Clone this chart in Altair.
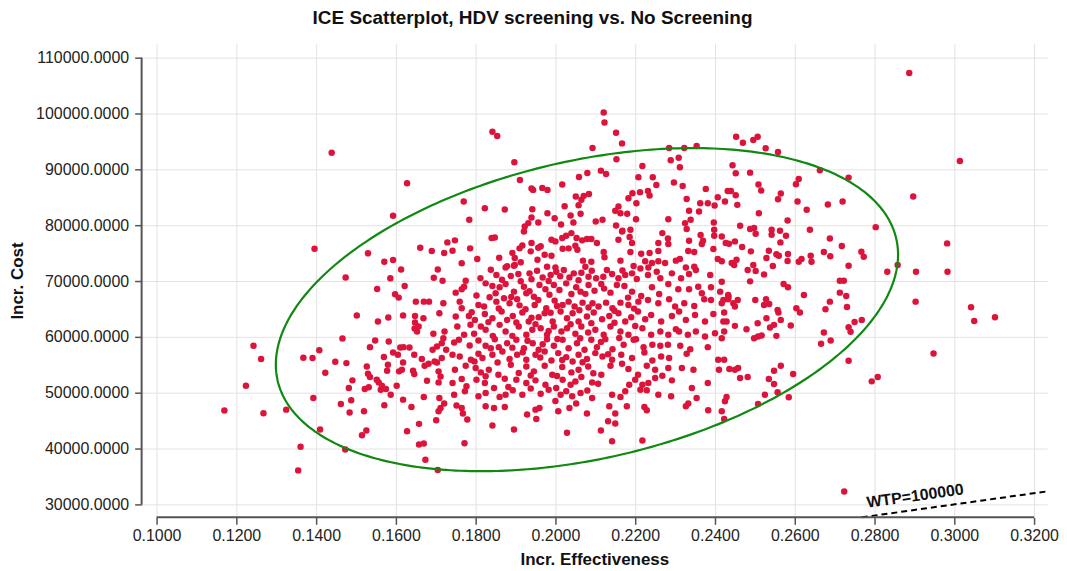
import altair as alt
import numpy as np
import pandas as pd

FONT = "Liberation Sans"
TITLE = "ICE Scatterplot, HDV screening vs. No Screening"
X_TITLE = "Incr. Effectiveness"
Y_TITLE = "Incr. Cost"
WTP = 100000
WTP_LABEL = "WTP=100000"

x_ticks = [0.10, 0.12, 0.14, 0.16, 0.18, 0.20, 0.22, 0.24, 0.26, 0.28, 0.30, 0.32]
y_ticks = [30000, 40000, 50000, 60000, 70000, 80000, 90000, 100000, 110000]
X_DOMAIN = [0.09625, 0.32325]
Y_DOMAIN = [27679, 112500]

# (incremental effectiveness, incremental cost), by region
pts_top_left = [
    (0.1439, 92980), (0.1628, 87510), (0.1593, 81680), (0.1396, 75790), (0.1530, 74960),
    (0.1661, 75970), (0.1690, 75370),
]
pts_top_mid = [
    (0.2121, 100180), (0.2123, 98400), (0.1842, 96730), (0.1854, 95960), (0.2152, 96550),
    (0.2167, 94650), (0.2093, 93820), (0.2153, 91790), (0.1897, 91260), (0.2285, 93820),
    (0.2323, 93820), (0.2354, 94170), (0.2289, 91610), (0.2309, 92090), (0.2312, 90360),
    (0.2218, 90600), (0.2114, 89770), (0.2127, 89180), (0.2080, 89350), (0.2059, 88640),
    (0.2208, 88580), (0.2244, 88580), (0.2253, 87210), (0.2297, 87630), (0.2319, 87030),
    (0.2444, 90720), (0.2452, 89290), (0.2453, 95840), (0.1911, 88100), (0.2017, 87270),
    (0.1940, 86560), (0.1944, 86320), (0.1967, 86680), (0.1980, 86320), (0.1770, 84240),
    (0.1823, 83050), (0.1873, 82810), (0.1942, 82870), (0.1784, 80960), (0.2051, 85130),
    (0.2065, 84540), (0.2071, 85250), (0.2084, 85600), (0.2058, 83580), (0.2023, 83400),
    (0.2063, 82030), (0.1980, 82150), (0.1998, 81260), (0.2038, 81740), (0.2045, 80490),
    (0.2101, 80670), (0.2118, 80960), (0.2014, 80130), (0.1940, 81380), (0.1932, 80370),
    (0.1923, 79770), (0.1921, 78880), (0.1957, 80490), (0.2158, 83340), (0.2150, 82570),
    (0.2163, 82150), (0.2180, 82030), (0.2152, 79950), (0.2168, 79000), (0.2188, 79180),
    (0.2202, 81080), (0.2203, 83940), (0.2183, 84830), (0.2193, 85720), (0.2212, 85900),
    (0.2232, 86140), (0.2236, 85310), (0.2329, 84700), (0.2363, 83940), (0.2382, 83940),
    (0.2399, 83520), (0.2377, 86500), (0.2407, 85000), (0.2425, 84240), (0.2432, 86140),
    (0.2440, 86140), (0.2335, 82570), (0.2360, 82450), (0.2283, 81080), (0.2325, 80370),
    (0.2329, 79300), (0.2339, 80960), (0.2397, 80490), (0.2398, 79180), (0.2398, 78110),
    (0.1840, 77690), (0.1848, 77810), (0.1917, 76380), (0.1940, 76800), (0.1729, 76920),
    (0.1748, 77280), (0.1721, 75010), (0.1742, 75430), (0.1786, 75850), (0.1765, 73170),
    (0.1804, 73940), (0.1859, 74180), (0.1892, 75030), (0.1910, 75850), (0.1938, 75310),
    (0.1957, 75970), (0.1963, 76210), (0.1990, 77400), (0.2000, 77100), (0.2017, 77700),
    (0.2027, 78110), (0.2040, 78580), (0.2053, 77700), (0.2067, 77280), (0.2079, 77520),
    (0.2090, 77520), (0.2104, 76800), (0.2018, 75790), (0.2033, 75850), (0.2050, 76320),
    (0.2055, 75610), (0.1973, 74720), (0.1990, 74540), (0.1955, 73820), (0.1898, 74120),
    (0.1913, 73350), (0.2069, 73650), (0.2090, 73470), (0.2121, 75190), (0.2123, 74240),
    (0.2158, 77400), (0.2167, 78880), (0.2186, 77870), (0.2192, 76800), (0.2188, 75190),
    (0.2163, 73650), (0.2215, 74900), (0.2236, 75010), (0.2258, 75370), (0.2258, 76800),
    (0.2268, 78580), (0.2282, 77630), (0.2283, 76620), (0.2225, 73530), (0.2242, 73230),
    (0.2258, 73530), (0.2275, 73230), (0.2302, 73650), (0.2312, 73940), (0.2333, 75370),
    (0.2348, 75190), (0.2335, 77220), (0.2364, 78230), (0.2370, 77220), (0.2367, 76620),
    (0.2396, 75730), (0.2407, 73940), (0.2417, 73530), (0.2417, 77990), (0.2427, 76800),
    (0.2435, 76680), (0.2442, 73230), (0.2454, 73820), (0.2450, 77100), (0.1879, 72650),
    (0.1896, 72750),
]
pts_top_right = [
    (0.2887, 107260), (0.3014, 91500), (0.2897, 85130), (0.2803, 79650), (0.2982, 76740),
    (0.2470, 94770), (0.2496, 95240), (0.2507, 95840), (0.2527, 93760), (0.2558, 93100),
    (0.2488, 89410), (0.2663, 89830), (0.2735, 88520), (0.2610, 88280), (0.2603, 87330),
    (0.2509, 87270), (0.2516, 86200), (0.2452, 85370), (0.2456, 83640), (0.2565, 85670),
    (0.2558, 84650), (0.2607, 84240), (0.2630, 82750), (0.2683, 83700), (0.2720, 84240),
    (0.2510, 82150), (0.2582, 80850), (0.2463, 79890), (0.2488, 79300), (0.2498, 79480),
    (0.2502, 78470), (0.2542, 79180), (0.2542, 78290), (0.2563, 79000), (0.2578, 78110),
    (0.2564, 76920), (0.2638, 79180), (0.2468, 76080), (0.2490, 75310), (0.2535, 75430),
    (0.2529, 74120), (0.2554, 74780), (0.2560, 74540), (0.2583, 74840), (0.2617, 73940),
    (0.2640, 74540), (0.2688, 77630), (0.2718, 76260), (0.2673, 75190), (0.2689, 74420),
    (0.2767, 75250), (0.2773, 74360),
]
pts_bottom_right = [
    (0.2832, 71670), (0.2904, 71670), (0.2983, 71670), (0.2858, 72860), (0.2903, 66310),
    (0.3042, 65300), (0.3050, 62860), (0.3102, 63510), (0.2948, 57030), (0.2793, 52030),
    (0.2808, 52800), (0.2735, 55720), (0.2768, 63040), (0.2750, 62680), (0.2735, 61730),
    (0.2740, 60900), (0.2729, 67320), (0.2731, 65360), (0.2713, 67920), (0.2713, 70060),
    (0.2723, 70060), (0.2688, 66310), (0.2677, 64940), (0.2673, 60780), (0.2666, 58750),
    (0.2690, 59350), (0.2735, 72740), (0.2623, 67500), (0.2604, 65120), (0.2613, 64350),
    (0.2590, 62030), (0.2572, 69460), (0.2583, 68870), (0.2545, 72680), (0.2523, 71190),
    (0.2496, 72860), (0.2502, 71790), (0.2482, 71970), (0.2488, 69940), (0.2610, 73450),
    (0.2642, 73450), (0.2582, 73570), (0.2434, 67200), (0.2457, 66610), (0.2446, 66010),
    (0.2421, 66610), (0.2501, 66610), (0.2528, 66730), (0.2536, 65890), (0.2523, 65720),
    (0.2557, 64820), (0.2559, 64350), (0.2529, 63340), (0.2507, 62440), (0.2565, 63040),
    (0.2538, 61670), (0.2548, 62150), (0.2554, 60180), (0.2479, 61370), (0.2498, 59770),
    (0.2508, 60060), (0.2517, 60240), (0.2421, 62740), (0.2417, 59770), (0.2450, 54110),
    (0.2458, 54410), (0.2463, 52620), (0.2482, 52800), (0.2548, 53940), (0.2565, 54830),
    (0.2535, 52440), (0.2548, 51550), (0.2596, 53340), (0.2525, 49650), (0.2557, 50070),
    (0.2508, 47980), (0.2585, 49170), (0.2417, 46680), (0.2724, 32300),
]
pts_bottom_left = [
    (0.1170, 46800), (0.1224, 51260), (0.1243, 58400), (0.1262, 56020), (0.1268, 46320),
    (0.1325, 46970), (0.1361, 40310), (0.1355, 36090), (0.1368, 56260), (0.1391, 56200),
    (0.1408, 57620), (0.1393, 49060), (0.1423, 53580), (0.1410, 43400), (0.1448, 55540),
    (0.1476, 55300), (0.1466, 59710), (0.1474, 70650), (0.1473, 39830), (0.1462, 47980),
    (0.1484, 46440), (0.1488, 48640), (0.1482, 50840), (0.1491, 52210), (0.1502, 63810),
    (0.1520, 46680), (0.1526, 43220), (0.1515, 42390), (0.1522, 50660), (0.1532, 50960),
    (0.1527, 54710), (0.1530, 53400), (0.1535, 52800), (0.1535, 58160), (0.1548, 59350),
    (0.1553, 68570), (0.1555, 62740), (0.1552, 52330), (0.1557, 51850), (0.1565, 51260),
    (0.1562, 50540), (0.1575, 50660), (0.1570, 56380), (0.1571, 47750), (0.1571, 73450),
    (0.1593, 73750), (0.1582, 59170), (0.1580, 55010), (0.1578, 53940), (0.1581, 63460),
    (0.1586, 70480), (0.1587, 49650), (0.1598, 67620), (0.1607, 67030), (0.1593, 57200),
    (0.1605, 56790), (0.1611, 58100), (0.1619, 58160), (0.1634, 58100), (0.1602, 51260),
    (0.1608, 53820), (0.1615, 54110), (0.1618, 55420), (0.1613, 72080), (0.1622, 69110),
    (0.1618, 63810), (0.1618, 48760), (0.1628, 43100), (0.1639, 47450), (0.1646, 56790),
    (0.1646, 53340), (0.1643, 53940), (0.1650, 66310), (0.1648, 63750), (0.1648, 62560),
    (0.1647, 61490), (0.1653, 60960), (0.1657, 61850), (0.1658, 44420), (0.1658, 40730),
    (0.1670, 40910), (0.1674, 37990), (0.1670, 49230), (0.1665, 56020), (0.1672, 54830),
    (0.1682, 55180), (0.1697, 55600), (0.1703, 55420), (0.1670, 66310), (0.1683, 66310),
    (0.1669, 63340), (0.1678, 52150), (0.1692, 57680), (0.1694, 60540), (0.1695, 70600),
    (0.1717, 70060), (0.1705, 72080), (0.1709, 64230), (0.1719, 66010), (0.1722, 60960),
    (0.1719, 59770), (0.1715, 58870), (0.1703, 58280), (0.1726, 57680), (0.1707, 53820),
    (0.1712, 52920), (0.1707, 51850), (0.1709, 49060), (0.1712, 47270), (0.1721, 48050),
    (0.1707, 46680), (0.1701, 45070), (0.1705, 36140),
]
pts_core = [
    (0.1875, 72440), (0.1898, 72860), (0.1979, 72560), (0.2000, 72440), (0.2075, 72560),
    (0.2196, 72680), (0.2213, 72260), (0.2233, 72440), (0.2327, 72440), (0.2348, 72560),
    (0.2448, 72860),
    (0.1775, 70060), (0.1852, 71070), (0.1888, 70890), (0.1907, 71250), (0.1935, 71370),
    (0.1954, 71850), (0.1968, 70650), (0.1988, 71070), (0.2002, 71670), (0.2021, 71960),
    (0.2035, 70650), (0.2046, 71370), (0.2065, 71490), (0.2083, 70770), (0.2102, 70480),
    (0.2129, 71960), (0.2142, 71250), (0.2158, 70480), (0.2175, 71070), (0.2192, 71370),
    (0.2232, 71070), (0.2254, 71670), (0.2263, 70480), (0.2292, 71370), (0.2315, 70480),
    (0.2335, 71250), (0.2352, 71960), (0.2388, 71070), (0.2417, 69880),
    (0.1750, 67920), (0.1765, 68510), (0.1771, 68990), (0.1825, 69580), (0.1842, 69110),
    (0.1860, 68870), (0.1875, 69460), (0.1896, 68100), (0.1921, 68990), (0.1927, 67800),
    (0.1946, 67200), (0.1960, 69290), (0.1975, 68510), (0.1996, 69290), (0.2027, 69580),
    (0.2040, 67680), (0.2052, 68870), (0.2063, 68100), (0.2083, 69290), (0.2098, 68270),
    (0.2115, 69460), (0.2138, 67920), (0.2154, 69290), (0.2173, 69110), (0.2192, 68100),
    (0.2215, 67320), (0.2242, 68870), (0.2260, 67680), (0.2283, 69460), (0.2308, 68510),
    (0.2335, 68510), (0.2358, 68990), (0.2367, 67800), (0.2390, 68870), (0.2413, 68100),
    (0.2433, 67500),
    (0.1760, 66310), (0.1765, 65120), (0.1807, 65710), (0.1821, 65420), (0.1835, 67080),
    (0.1852, 66310), (0.1871, 66910), (0.1885, 66010), (0.1904, 66730), (0.1925, 64940),
    (0.1948, 65710), (0.1957, 66610), (0.1977, 65120), (0.1998, 66490), (0.2018, 65710),
    (0.2033, 66310), (0.2048, 65420), (0.2068, 66130), (0.2093, 66010), (0.2108, 65420),
    (0.2127, 66130), (0.2143, 65120), (0.2163, 66130), (0.2183, 65710), (0.2208, 66310),
    (0.2232, 66610), (0.2258, 66010), (0.2285, 66730), (0.2300, 65420), (0.2323, 66010),
    (0.2348, 65540), (0.2373, 66730), (0.2390, 66610), (0.2417, 66010), (0.2433, 66730),
    (0.2450, 65420),
    (0.1750, 63630), (0.1783, 63750), (0.1798, 63040), (0.1823, 64110), (0.1842, 63340),
    (0.1865, 64530), (0.1879, 63040), (0.1893, 63750), (0.1917, 64350), (0.1933, 62740),
    (0.1958, 63510), (0.1973, 64230), (0.1993, 62740), (0.2013, 64530), (0.2029, 63340),
    (0.2043, 64230), (0.2058, 62740), (0.2079, 63630), (0.2096, 64350), (0.2117, 63160),
    (0.2135, 63750), (0.2158, 64230), (0.2175, 62740), (0.2190, 63510), (0.2207, 64530),
    (0.2225, 63160), (0.2240, 63930), (0.2265, 62740), (0.2292, 63750), (0.2310, 64530),
    (0.2327, 63040), (0.2350, 63930), (0.2375, 62740), (0.2396, 64110), (0.2423, 64350),
    (0.2429, 62740), (0.2450, 61970),
    (0.1754, 61850), (0.1771, 60360), (0.1796, 60540), (0.1813, 61850), (0.1825, 61260),
    (0.1843, 60180), (0.1860, 62150), (0.1875, 60960), (0.1892, 60180), (0.1908, 61850),
    (0.1927, 60360), (0.1942, 61260), (0.1963, 61550), (0.1979, 60360), (0.1996, 61850),
    (0.2015, 60960), (0.2029, 61550), (0.2050, 60540), (0.2065, 61850), (0.2082, 60780),
    (0.2100, 61260), (0.2121, 60360), (0.2138, 61850), (0.2163, 60960), (0.2183, 60360),
    (0.2202, 59590), (0.2218, 61550), (0.2240, 60360), (0.2263, 60960), (0.2283, 60360),
    (0.2302, 61370), (0.2310, 60960), (0.2332, 60360), (0.2352, 60960), (0.2375, 60060),
    (0.2400, 60660), (0.2423, 60960),
    (0.1746, 58990), (0.1758, 59470), (0.1807, 59350), (0.1825, 58400), (0.1848, 59590),
    (0.1858, 58160), (0.1879, 58870), (0.1902, 59470), (0.1921, 57980), (0.1943, 58870),
    (0.1958, 57680), (0.1979, 59590), (0.1996, 58400), (0.2018, 59470), (0.2033, 57980),
    (0.2054, 58870), (0.2073, 57680), (0.2090, 59470), (0.2104, 58160), (0.2125, 59590),
    (0.2143, 57800), (0.2171, 58580), (0.2196, 59470), (0.2221, 58160), (0.2243, 58580),
    (0.2263, 58400), (0.2282, 58580), (0.2313, 58400), (0.2338, 57800), (0.2382, 58160),
    (0.1715, 56200), (0.1742, 56790), (0.1760, 56490), (0.1788, 55900), (0.1807, 56970),
    (0.1817, 56200), (0.1842, 56790), (0.1867, 57390), (0.1885, 56020), (0.1904, 56790),
    (0.1927, 55900), (0.1950, 56790), (0.1973, 57390), (0.1990, 55780), (0.2007, 57090),
    (0.2027, 56370), (0.2043, 55600), (0.2058, 56790), (0.2079, 56020), (0.2100, 57090),
    (0.2118, 56490), (0.2142, 55900), (0.2165, 56790), (0.2192, 56200), (0.2223, 57210),
    (0.2243, 55780), (0.2265, 56490), (0.2285, 56200), (0.2329, 56970), (0.2423, 55900),
    (0.1748, 54110), (0.1775, 54830), (0.1800, 54410), (0.1813, 53640), (0.1833, 54110),
    (0.1857, 53220), (0.1888, 55010), (0.1908, 53520), (0.1927, 54710), (0.1946, 53820),
    (0.1973, 54830), (0.1992, 53220), (0.2017, 54590), (0.2040, 53640), (0.2058, 54110),
    (0.2082, 54710), (0.2115, 53220), (0.2138, 54830), (0.2167, 55180), (0.2183, 54230),
    (0.2207, 53220), (0.2229, 54830), (0.2250, 54110), (0.2283, 54410), (0.2317, 54410),
    (0.2346, 54110), (0.2408, 55900), (0.2410, 54110), (0.2436, 54230),
    (0.1742, 51730), (0.1765, 52450), (0.1777, 51140), (0.1802, 52330), (0.1823, 51730),
    (0.1846, 50840), (0.1882, 51020), (0.1902, 52330), (0.1927, 51730), (0.1950, 52210),
    (0.1975, 51440), (0.2002, 50840), (0.2018, 52330), (0.2038, 51440), (0.2065, 52800),
    (0.2092, 51850), (0.2107, 51610), (0.2185, 51440), (0.2200, 52330), (0.2218, 51440),
    (0.2233, 51730), (0.2250, 52620), (0.2268, 53040), (0.2292, 52210), (0.2342, 50840),
    (0.2382, 51730),
    (0.1746, 49650), (0.1773, 50250), (0.1807, 49350), (0.1825, 49950), (0.1875, 49650),
    (0.1893, 50430), (0.1917, 49650), (0.1963, 49830), (0.1983, 50540), (0.2013, 49650),
    (0.2027, 50250), (0.2042, 49350), (0.2063, 49950), (0.2092, 49060), (0.2142, 49650),
    (0.2163, 49230), (0.2175, 50250), (0.2213, 50540), (0.2229, 50430), (0.2258, 49650),
    (0.2290, 49350), (0.2354, 49060), (0.2429, 49230),
    (0.1752, 47690), (0.1765, 47270), (0.1825, 47570), (0.1846, 47270), (0.1873, 47450),
    (0.1950, 46970), (0.1960, 47270), (0.2007, 46680), (0.2035, 47270), (0.2052, 48050),
    (0.2079, 46260), (0.2135, 47570), (0.2150, 46260), (0.2179, 47570), (0.2223, 47450),
    (0.2229, 46860), (0.2327, 47570), (0.2333, 48050), (0.2383, 46860), (0.2425, 48460),
    (0.1768, 46260), (0.1779, 45190), (0.1842, 44120), (0.1896, 43400), (0.1929, 46080),
    (0.1952, 45310), (0.2029, 42810), (0.2114, 43220), (0.2132, 44890), (0.2142, 41320),
    (0.2150, 44470), (0.2218, 41440), (0.2423, 45310), (0.1772, 40960),
]
# extra points of the densest part of the cloud
pts_core_extra = [
    (0.1812, 70520), (0.1838, 72010), (0.1866, 70210), (0.1913, 69950), (0.1940, 70300),
    (0.1983, 70020), (0.2012, 70840), (0.2058, 70120), (0.2091, 71840), (0.2120, 70760),
    (0.2168, 71880), (0.2204, 70380), (0.1802, 67410), (0.1850, 67820), (0.1889, 67130),
    (0.1935, 68150), (0.1985, 67560), (0.2010, 68390), (0.2075, 67700), (0.2122, 68640),
    (0.2182, 67030), (0.1790, 64430), (0.1858, 65070), (0.1910, 65640), (0.1940, 63440),
    (0.1988, 64320), (0.2004, 65540), (0.2060, 64780), (0.2083, 65240), (0.2148, 64680),
    (0.2197, 65060), (0.1787, 62160), (0.1832, 62640), (0.1902, 62560), (0.1950, 62280),
    (0.1983, 61060), (0.2038, 62260), (0.2090, 62460), (0.2148, 62540), (0.2200, 61950),
    (0.1785, 58450), (0.1838, 57950), (0.1892, 58070), (0.1930, 59320), (0.1968, 58670),
    (0.2005, 59630), (0.2062, 59760), (0.2114, 59100), (0.2160, 59800), (0.1797, 55610),
    (0.1855, 55420), (0.1918, 57230), (0.1962, 56310), (0.2017, 55840), (0.2068, 55470),
    (0.2132, 56870), (0.1825, 52960), (0.1873, 52500), (0.1938, 53080), (0.2004, 52990),
    (0.2050, 51990), (0.2095, 53480), (0.1860, 49250), (0.1938, 50760), (0.2000, 48530),
    (0.2080, 50410),
]

# confidence ellipse: centre, spreads, correlation
E_CX, E_CY = 0.2079, 64875
E_SX, E_SY = 0.078, 28930
E_R = 0.34

all_pts = (pts_top_left + pts_top_mid + pts_top_right + pts_bottom_right + pts_bottom_left
           + pts_core + pts_core_extra)
df = pd.DataFrame(all_pts, columns=["effect", "cost"])

t = np.linspace(0, 2 * np.pi, 361)
ell = pd.DataFrame({
    "i": np.arange(len(t)),
    "effect": E_CX + E_SX * np.cos(t),
    "cost": E_CY + E_SY * (E_R * np.cos(t) + np.sqrt(1 - E_R ** 2) * np.sin(t)),
})

wtp_x = [Y_DOMAIN[0] / WTP, X_DOMAIN[1]]
wtp = pd.DataFrame({"effect": wtp_x, "cost": [WTP * v for v in wtp_x]})
wtp_lab = pd.DataFrame({"effect": [0.2902], "cost": [31480], "label": [WTP_LABEL]})

axis_lines = pd.DataFrame({"effect": [x_ticks[0]], "effect2": [x_ticks[-1]],
                           "cost": [y_ticks[0]], "cost2": [y_ticks[-1]]})

xscale = alt.Scale(domain=X_DOMAIN, nice=False, zero=False)
yscale = alt.Scale(domain=Y_DOMAIN, nice=False, zero=False)

common_axis = dict(
    format=".4f", domain=False, grid=True, gridColor="#e2e2e2", gridWidth=1,
    labelFont=FONT, labelFontSize=16, labelColor="#222222",
    tickColor="#555555", tickWidth=1.5, tickSize=7,
    titleFont=FONT, titleFontSize=17, titleFontWeight="bold", titleColor="#111111",
    titleBaseline="middle",
)

x_axis = alt.Axis(values=x_ticks, title=X_TITLE, labelPadding=3, labelFlush=False,
                  titleY=42, **common_axis)
y_axis = alt.Axis(values=y_ticks, title=Y_TITLE, labelPadding=6, titleX=-124, **common_axis)

X = alt.X("effect:Q", scale=xscale, axis=x_axis, title=X_TITLE)
Y = alt.Y("cost:Q", scale=yscale, axis=y_axis, title=Y_TITLE)

points = alt.Chart(df).mark_circle(size=42, color="#DC143C", opacity=1).encode(x=X, y=Y)

ellipse = alt.Chart(ell).mark_line(color="#118811", strokeWidth=2.2).encode(
    x=X, y=Y, order="i:Q",
)

wtp_line = alt.Chart(wtp).mark_line(color="#000000", strokeWidth=2, strokeDash=[6, 4], clip=False).encode(
    x=X, y=Y,
)

wtp_text = alt.Chart(wtp_lab).mark_text(
    font=FONT, fontSize=16, fontWeight="bold", color="#111111", angle=352, align="center",
    baseline="middle",
).encode(x=X, y=Y, text="label:N")

y_line = alt.Chart(axis_lines).mark_rule(color="#555555", strokeWidth=2).encode(
    x=alt.value(0), y=Y, y2="cost2:Q",
)
x_line = alt.Chart(axis_lines).mark_rule(color="#555555", strokeWidth=2).encode(
    y=alt.value(475), x=X, x2="effect2:Q",
)

chart = alt.layer(points, ellipse, wtp_line, wtp_text, y_line, x_line).properties(
    width=908,
    height=475,
    title=alt.TitleParams(TITLE, font=FONT, fontSize=19, fontWeight="bold", color="#111111",
                          anchor="middle", offset=16, dx=-62),
    autosize=alt.AutoSizeParams(type="none"),
    padding={"left": 134, "top": 35, "right": 12, "bottom": 52},
).configure_view(stroke=None)

chart.save("out.html", embed_options={"renderer": "svg", "actions": False})
